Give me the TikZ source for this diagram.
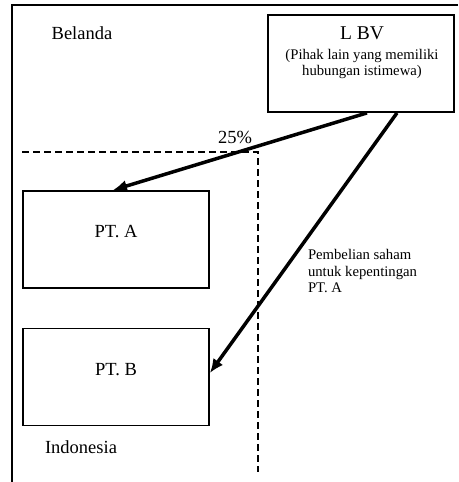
\documentclass[tikz,border=0pt]{standalone}
\usepackage{fontspec}
\setmainfont{Liberation Serif}
\usetikzlibrary{arrows.meta}

\tikzset{
    kotak/.style={draw, line width=1.8pt, minimum width=186pt, minimum height=97pt, inner sep=0pt},
    panah/.style={line width=3.5pt, -{Latex[length=14pt,width=12pt]}},
    batas/.style={line width=2.8pt, dash pattern=on 7pt off 4pt},
    teks/.style={font=\fontsize{18.5}{20}\selectfont, inner sep=0pt},
    teksKecil/.style={font=\fontsize{14.7}{16.5}\selectfont, inner sep=0pt}
}

\begin{document}
\begin{tikzpicture}[x=1pt, y=-1pt]
        \useasboundingbox (0,0) rectangle (458,482);

        % bingkai luar
        \draw[line width=2.3pt] (458,5) -- (12,5) -- (12,482);

        % batas wilayah Indonesia
        \draw[batas] (22,152) -- (258,152) -- (258,472);

        \node[teks] (belanda) at (82,33) {Belanda};
        \node[teks] (indonesia) at (81,447) {Indonesia};

        % pihak lain di Belanda
        \node[kotak] (lbv) at (361,63.5) {};
        \node[teks, font=\fontsize{19.5}{21}\selectfont] (lbvnama) at (362,33) {L BV};
        \node[teksKecil, align=center] (lbvket) at (362,64) {(Pihak lain yang memiliki\\hubungan istimewa)};

        % perusahaan di Indonesia
        \node[kotak] (pta) at (116,239.5) {};
        \node[teks] (ptanama) at (116,232) {PT. A};

        \node[kotak] (ptb) at (116,377) {};
        \node[teks] (ptbnama) at (116,370) {PT. B};

        \coordinate (a1) at ([xshift=6pt]lbv.south);
        \coordinate (a2) at ([xshift=36pt]lbv.south);
        \coordinate (b1) at ([xshift=-3pt]pta.north);
        \coordinate (b2) at ([yshift=4pt]ptb.east);

        \draw[panah] (a1) -- (b1);
        \draw[panah] (a2) -- (b2);

        \node[teks] (persen) at (235,137) {25\%};
        \node[teksKecil, align=left] (beli) at (362.5,271) {Pembelian saham\\untuk kepentingan\\PT. A};

    \end{tikzpicture}
\end{document}
